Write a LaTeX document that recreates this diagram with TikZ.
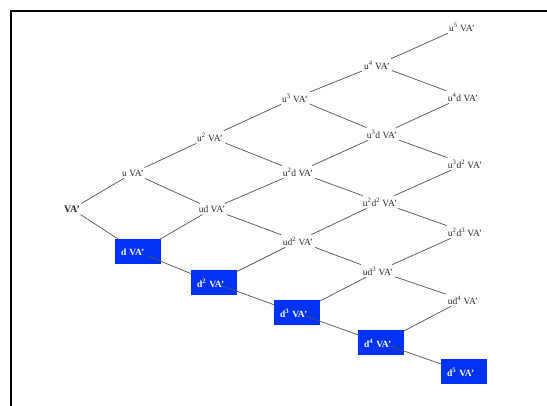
\documentclass[tikz,border=0pt]{standalone}
\usepackage{fontspec}
\setmainfont{Liberation Serif}
\definecolor{boxblue}{RGB}{0,50,245}
\definecolor{edgegray}{RGB}{80,80,80}
\begin{document}
\begin{tikzpicture}[x=1pt,y=-1pt,
  val/.style={inner sep=2pt,font=\fontsize{9.5}{11}\selectfont,text=black!85},
  dbox/.style={fill=boxblue,text=white,font=\fontsize{9.5}{11}\selectfont\bfseries,
     minimum height=25pt,text width=34pt,inner xsep=6pt,align=left,inner ysep=0pt},
  edge/.style={draw=edgegray,line width=0.7pt},
  dedge/.style={edge,shorten <=9pt}]
\useasboundingbox (0,0) rectangle (547,406);
\draw[line width=2pt] (547,11) -- (11,11) -- (11,406);
% nodes
\node[val,font=\fontsize{10}{11}\selectfont\bfseries] (v) at (72,209) {VA'};
\node[val] (u1) at (133,173) {u VA'};
\node[dbox] (d1) at (138,252) {d VA'};
\node[val] (u2) at (210,137) {u\textsuperscript{2} VA'};
\node[val] (ud) at (212,209) {ud VA'};
\node[dbox] (d2) at (214,283) {d\textsuperscript{2} VA'};
\node[val] (u3) at (295,98) {u\textsuperscript{3} VA'};
\node[val] (u2d) at (298,172) {u\textsuperscript{2}d VA'};
\node[val] (ud2) at (298,241) {ud\textsuperscript{2} VA'};
\node[dbox] (d3) at (297,313) {d\textsuperscript{3} VA'};
\node[val] (u4) at (377,65) {u\textsuperscript{4} VA'};
\node[val] (u3d) at (382,134) {u\textsuperscript{3}d VA'};
\node[val] (u2d2) at (380,202) {u\textsuperscript{2}d\textsuperscript{2} VA'};
\node[val] (ud3) at (378,271) {ud\textsuperscript{3} VA'};
\node[dbox] (d4) at (381,343) {d\textsuperscript{4} VA'};
\node[val] (u5) at (462,27) {u\textsuperscript{5} VA'};
\node[val] (u4d) at (463,97) {u\textsuperscript{4}d VA'};
\node[val] (u3d2) at (465,164) {u\textsuperscript{3}d\textsuperscript{2} VA'};
\node[val] (u2d3) at (465,232) {u\textsuperscript{2}d\textsuperscript{3} VA'};
\node[val] (ud4) at (463,300) {ud\textsuperscript{4} VA'};
\node[dbox] (d5) at (464,372) {d\textsuperscript{5} VA'};
% edges
\path[edge] (v) -- (u1) (v) -- (d1)
  (u1) -- (u2) (u1) -- (ud) (d1) -- (ud)
  (u2) -- (u3) (u2) -- (u2d) (ud) -- (u2d) (ud) -- (ud2) (d2) -- (ud2)
  (u3) -- (u4) (u3) -- (u3d) (u2d) -- (u3d) (u2d) -- (u2d2) (ud2) -- (u2d2) (ud2) -- (ud3) (d3) -- (ud3)
  (u4) -- (u5) (u4) -- (u4d) (u3d) -- (u4d) (u3d) -- (u3d2) (u2d2) -- (u3d2) (u2d2) -- (u2d3) (ud3) -- (u2d3) (ud3) -- (ud4) (d4) -- (ud4);
\draw[dedge] (d1.center) -- (d2);
\draw[dedge] (d2.center) -- (d3);
\draw[dedge] (d3.center) -- (d4);
\draw[dedge] (d4.center) -- (d5);
\end{tikzpicture}
\end{document}
